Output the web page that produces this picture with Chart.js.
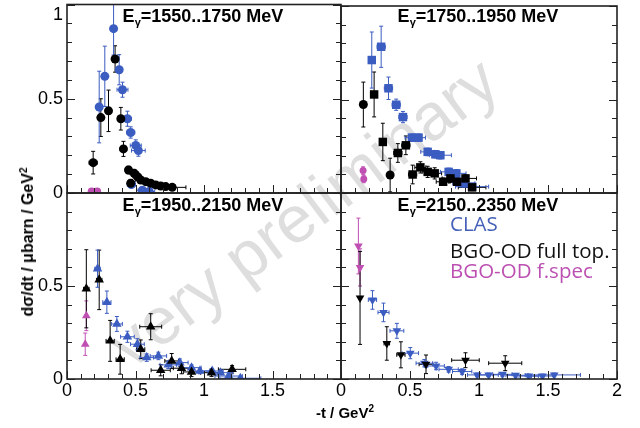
<!DOCTYPE html>
<html>
<head>
<meta charset="utf-8">
<script src="https://cdn.jsdelivr.net/npm/chart.js@4.4.1/dist/chart.umd.min.js"></script>
<style>
  body { margin: 0; background: #fff; }
  #wrap { position: relative; width: 640px; height: 428px; overflow: hidden; font-family: 'Liberation Sans', Arial, sans-serif; }
  canvas { position: absolute; left: 0; top: 0; }
  .wm { position: absolute; left: 303px; top: 212px; transform: translate(-50%, -50%) rotate(-37deg); font-size: 66px; color: #dedede; white-space: nowrap; }
  .title { position: absolute; transform: translateX(-50%); font-weight: bold; font-size: 18px; line-height: 18px; white-space: nowrap; }
  .title sub { font-size: 11px; line-height: 0; vertical-align: -4px; }
  .leg { position: absolute; left: 450px; font-family: 'Open Sans', sans-serif; font-size: 20.5px; line-height: 20px; white-space: nowrap; }
  .ytitle { position: absolute; left: 28px; top: 242px; transform: translate(-50%, -50%) rotate(-90deg); font-weight: bold; font-size: 16px; white-space: nowrap; }
  .xtitle { position: absolute; left: 345px; top: 412px; transform: translate(-50%, -50%); font-weight: bold; font-size: 15px; white-space: nowrap; }
  sup { font-size: 10px; line-height: 0; }
</style>
</head>
<body>
<div id="wrap">
  <div class="wm">very preliminary</div>
  <canvas id="p1550" width="640" height="428"></canvas>
  <canvas id="p1750" width="640" height="428"></canvas>
  <canvas id="p1950" width="640" height="428"></canvas>
  <canvas id="p2150" width="640" height="428"></canvas>
  <div class="title" style="left:203px;top:7px">E<sub>γ</sub>=1550..1750 MeV</div>
  <div class="title" style="left:478px;top:7px">E<sub>γ</sub>=1750..1950 MeV</div>
  <div class="title" style="left:203px;top:196px">E<sub>γ</sub>=1950..2150 MeV</div>
  <div class="title" style="left:478px;top:196px">E<sub>γ</sub>=2150..2350 MeV</div>
  <div class="leg" style="top:213px;color:#4560b8">CLAS</div>
  <div class="leg" style="top:240px;color:#111">BGO-OD full top.</div>
  <div class="leg" style="top:260px;color:#bc50b2">BGO-OD f.spec</div>
  <div class="ytitle">dσ/dt / μbarn / GeV<sup>2</sup></div>
  <div class="xtitle">-t / GeV<sup>2</sup></div>
</div>
<script>
// E = 1550..1750 MeV
const clas1550X  = [0.235, 0.276, 0.34, 0.381, 0.405, 0.441, 0.465, 0.502, 0.521, 0.47, 0.55, 0.6];
const clas1550Y  = [0.456, 0.619, 0.872, 0.654, 0.548, 0.394, 0.321, 0.252, 0.225, 0.045, 0.015, 0.008];
const clas1550Ex = [0.02, 0.02, 0.02, 0.02, 0.04, 0.03, 0.03, 0.04, 0.05, 0.03, 0.04, 0.04];
const clas1550Ey = [0.19, 0.16, 0.14, 0.08, 0.04, 0.04, 0.03, 0.03, 0.03, 0.01, 0.01, 0.01];
const full1550X  = [0.191, 0.247, 0.303, 0.351, 0.393, 0.412, 0.449, 0.465, 0.49, 0.514, 0.538, 0.575, 0.611, 0.647, 0.684, 0.72, 0.768];
const full1550Y  = [0.161, 0.40, 0.436, 0.711, 0.394, 0.234, 0.122, 0.052, 0.105, 0.087, 0.069, 0.06, 0.052, 0.043, 0.037, 0.034, 0.03];
const full1550Ex = [0.03, 0.02, 0.02, 0.02, 0.02, 0.02, 0.02, 0.02, 0.03, 0.03, 0.04, 0.04, 0.05, 0.05, 0.06, 0.07, 0.1];
const full1550Ey = [0.06, 0.1, 0.11, 0.07, 0.06, 0.04, 0.02, 0.02, 0.02, 0.015, 0.015, 0.01, 0.01, 0.01, 0.01, 0.01, 0.01];
const spec1550X  = [0.18, 0.22];
const spec1550Y  = [0.008, 0.008];
const spec1550Ex = [0.01, 0.01];
const spec1550Ey = [0.005, 0.005];

// E = 1750..1950 MeV
const clas1750X  = [0.223, 0.291, 0.344, 0.40, 0.449, 0.514, 0.562, 0.628, 0.684, 0.72, 0.78, 0.836, 0.89, 0.95];
const clas1750Y  = [0.711, 0.782, 0.56, 0.472, 0.406, 0.296, 0.296, 0.22, 0.207, 0.202, 0.113, 0.105, 0.052, 0.034];
const clas1750Ex = [0.02, 0.03, 0.03, 0.03, 0.03, 0.05, 0.05, 0.05, 0.06, 0.08, 0.06, 0.07, 0.08, 0.12];
const clas1750Ey = [0.15, 0.11, 0.06, 0.03, 0.03, 0.02, 0.02, 0.02, 0.02, 0.02, 0.02, 0.02, 0.02, 0.015];
const full1750X  = [0.162, 0.24, 0.303, 0.356, 0.412, 0.47, 0.519, 0.575, 0.628, 0.679, 0.74, 0.793, 0.841, 0.902, 0.95];
const full1750Y  = [0.473, 0.527, 0.273, 0.096, 0.214, 0.255, 0.099, 0.137, 0.113, 0.105, 0.06, 0.078, 0.06, 0.078, 0.03];
const full1750Ex = [0.02, 0.02, 0.02, 0.02, 0.03, 0.03, 0.03, 0.04, 0.04, 0.05, 0.05, 0.06, 0.06, 0.08, 0.1];
const full1750Ey = [0.12, 0.12, 0.1, 0.09, 0.05, 0.05, 0.05, 0.03, 0.03, 0.03, 0.02, 0.02, 0.02, 0.02, 0.015];
const spec1750X  = [0.16, 0.165];
const spec1750Y  = [0.12, 0.075];
const spec1750Ex = [0.005, 0.005];
const spec1750Ey = [0.02, 0.02];

// E = 1950..2150 MeV
const clas1950X  = [0.223, 0.291, 0.364, 0.441, 0.514, 0.582, 0.667, 0.739, 0.824, 0.909, 0.97, 1.06, 1.12, 1.18, 1.265];
const clas1950Y  = [0.593, 0.413, 0.296, 0.227, 0.187, 0.115, 0.124, 0.076, 0.088, 0.061, 0.043, 0.043, 0.034, 0.016, 0.004];
const clas1950Ex = [0.02, 0.03, 0.04, 0.05, 0.05, 0.05, 0.06, 0.06, 0.06, 0.07, 0.07, 0.08, 0.09, 0.1, 0.15];
const clas1950Ey = [0.1, 0.06, 0.04, 0.03, 0.03, 0.02, 0.02, 0.02, 0.02, 0.015, 0.015, 0.01, 0.01, 0.01, 0.005];
const full1950X  = [0.141, 0.235, 0.315, 0.388, 0.538, 0.611, 0.684, 0.764, 0.836, 0.909, 1.055, 1.205];
const full1950Y  = [0.485, 0.533, 0.205, 0.106, 0.16, 0.281, 0.047, 0.097, 0.058, 0.038, 0.034, 0.052];
const full1950Ex = [0.02, 0.02, 0.03, 0.03, 0.03, 0.08, 0.07, 0.05, 0.06, 0.06, 0.08, 0.1];
const full1950Ey = [0.21, 0.16, 0.11, 0.08, 0.05, 0.07, 0.03, 0.04, 0.03, 0.025, 0.02, 0.02];
const spec1950X  = [0.141, 0.133];
const spec1950Y  = [0.34, 0.187];
const spec1950Ex = [0.005, 0.005];
const spec1950Ey = [0.08, 0.06];

// E = 2150..2350 MeV
const clas2150X  = [0.228, 0.308, 0.405, 0.502, 0.604, 0.689, 0.78, 0.878, 0.987, 1.07, 1.17, 1.265, 1.36, 1.46, 1.545];
const clas2150Y  = [0.425, 0.358, 0.259, 0.139, 0.085, 0.07, 0.052, 0.04, 0.022, 0.022, 0.025, 0.02, 0.016, 0.016, 0.022];
const clas2150Ex = [0.03, 0.04, 0.05, 0.06, 0.06, 0.06, 0.07, 0.07, 0.07, 0.07, 0.07, 0.07, 0.07, 0.08, 0.19];
const clas2150Ey = [0.05, 0.05, 0.04, 0.03, 0.02, 0.02, 0.015, 0.015, 0.01, 0.01, 0.01, 0.01, 0.01, 0.01, 0.01];
const full2150X  = [0.138, 0.332, 0.434, 0.616, 0.902, 1.19];
const full2150Y  = [0.436, 0.191, 0.13, 0.079, 0.101, 0.085];
const full2150Ex = [0.01, 0.02, 0.03, 0.05, 0.1, 0.12];
const full2150Ey = [0.25, 0.09, 0.07, 0.05, 0.04, 0.04];
const spec2150X  = [0.126, 0.138];
const spec2150Y  = [0.715, 0.60];
const spec2150Ex = [0.005, 0.005];
const spec2150Ey = [0.15, 0.1];

const xTickLabels = ['0', '0.5', '1', '1.5', '2'];
const yTickLabels = ['0', '0.5', '1'];

const BLUE = '#3b5cc0';
const BLACK = '#000000';
const MAGENTA = '#c04fb4';

const points = (xs, ys) => xs.map((x, i) => ({ x: x, y: ys[i] }));

function series(label, color, xs, ys, ex, ey, style, radius, rotation) {
  return {
    label: label,
    data: points(xs, ys),
    xErr: ex,
    yErr: ey,
    showLine: false,
    backgroundColor: color,
    borderColor: color,
    borderWidth: 0,
    pointStyle: style,
    pointRadius: radius,
    pointRotation: rotation || 0
  };
}

const errorBars = {
  id: 'errorBars',
  beforeDatasetsDraw(chart) {
    const { ctx, chartArea: a, scales: { x, y } } = chart;
    ctx.save();
    ctx.beginPath();
    ctx.rect(a.left, a.top, a.right - a.left, a.bottom - a.top);
    ctx.clip();
    ctx.lineWidth = 1;
    chart.data.datasets.forEach(ds => {
      ctx.strokeStyle = ds.borderColor;
      ds.data.forEach((p, i) => {
        const px = x.getPixelForValue(p.x), py = y.getPixelForValue(p.y);
        const x0 = x.getPixelForValue(p.x - ds.xErr[i]), x1 = x.getPixelForValue(p.x + ds.xErr[i]);
        const y0 = y.getPixelForValue(p.y - ds.yErr[i]), y1 = y.getPixelForValue(p.y + ds.yErr[i]);
        ctx.beginPath();
        ctx.moveTo(x0, py); ctx.lineTo(x1, py);
        ctx.moveTo(px, y0); ctx.lineTo(px, y1);
        ctx.moveTo(x0, py - 2); ctx.lineTo(x0, py + 2);
        ctx.moveTo(x1, py - 2); ctx.lineTo(x1, py + 2);
        ctx.moveTo(px - 2, y0); ctx.lineTo(px + 2, y0);
        ctx.moveTo(px - 2, y1); ctx.lineTo(px + 2, y1);
        ctx.stroke();
      });
    });
    ctx.restore();
  }
};

// frame with inward ticks, ROOT style
const frame = {
  id: 'frame',
  afterDraw(chart) {
    const { ctx, chartArea: a, scales: { x, y } } = chart;
    ctx.save();
    ctx.strokeStyle = '#222';
    ctx.lineWidth = 1;
    ctx.beginPath();
    y.ticks.forEach(t => {
      const py = Math.round(y.getPixelForValue(t.value)) + 0.5;
      const len = Math.abs(t.value * 2 - Math.round(t.value * 2)) < 1e-6 ? 8 : 5;
      ctx.moveTo(a.left, py); ctx.lineTo(a.left + len, py);
      ctx.moveTo(a.right, py); ctx.lineTo(a.right - len, py);
    });
    x.ticks.forEach(t => {
      const px = Math.round(x.getPixelForValue(t.value)) + 0.5;
      const len = Math.abs(t.value * 2 - Math.round(t.value * 2)) < 1e-6 ? 8 : 5;
      ctx.moveTo(px, a.bottom); ctx.lineTo(px, a.bottom - len);
    });
    ctx.stroke();
    ctx.lineWidth = 1.6;
    ctx.strokeRect(a.left, a.top, a.right - a.left, a.bottom - a.top);
    ctx.restore();
  }
};

function makePanel(id, box, datasets, opts) {
  const tickFont = { family: "'Liberation Sans', Arial, sans-serif", size: 18 };
  // axis boxes take all the room left of / below the panel, so labels are not clipped
  const fit = scale => {
    if (scale.isHorizontal()) scale.height = 428 - box[3]; else scale.width = box[0];
    scale.paddingLeft = 0; scale.paddingRight = 0; scale.paddingTop = 0; scale.paddingBottom = 0;
  };
  new Chart(document.getElementById(id), {
    type: 'scatter',
    data: { datasets: datasets },
    options: {
      responsive: false,
      animation: false,
      events: [],
      layout: { padding: { left: 0, top: box[1], right: 640 - box[2], bottom: 0 } },
      plugins: { legend: { display: false }, tooltip: { enabled: false } },
      scales: {
        x: {
          type: 'linear', min: 0, max: 2,
          grid: { display: false, drawTicks: false },
          border: { display: false },
          ticks: {
            display: opts.xLabels, stepSize: 0.1, autoSkip: false, maxRotation: 0,
            padding: 1, color: '#000', font: tickFont,
            callback: v => {
              const s = String(Math.round(v * 10) / 10);
              return xTickLabels.includes(s) && !(s === '2' && !opts.xTwo) ? s : '';
            }
          },
          afterFit: fit
        },
        y: {
          type: 'linear', min: 0, max: 1,
          grid: { display: false, drawTicks: false },
          border: { display: false },
          ticks: {
            display: opts.yLabels, stepSize: 0.1, autoSkip: false,
            padding: 4, color: '#000', font: tickFont,
            callback: v => {
              const s = String(Math.round(v * 10) / 10);
              if (!yTickLabels.includes(s)) return '';
              if (s === '1') return opts.yOne ? ['', '1'] : '';
              return s;
            }
          },
          afterFit: fit
        }
      }
    },
    plugins: [errorBars, frame]
  });
}

const roundOnes = ctx => (ctx.dataIndex === 0 || ctx.dataIndex === 3);

makePanel('p1550', [67, 4, 341, 193], [
  series('BGO-OD f.spec', MAGENTA, spec1550X, spec1550Y, spec1550Ex, spec1550Ey, 'circle', 4),
  series('BGO-OD full top.', BLACK, full1550X, full1550Y, full1550Ex, full1550Ey, 'circle', 4.5),
  series('CLAS', BLUE, clas1550X, clas1550Y, clas1550Ex, clas1550Ey, 'circle', 4.5)
], { xLabels: false, yLabels: true, yOne: true });

makePanel('p1750', [341, 4, 617, 193], [
  series('BGO-OD f.spec', MAGENTA, spec1750X, spec1750Y, spec1750Ex, spec1750Ey, 'circle', 3.5),
  series('BGO-OD full top.', BLACK, full1750X, full1750Y, full1750Ex, full1750Ey,
    ctx => roundOnes(ctx) ? 'circle' : 'rect', ctx => roundOnes(ctx) ? 4.5 : 6),
  series('CLAS', BLUE, clas1750X, clas1750Y, clas1750Ex, clas1750Ey, 'rect', 6)
], { xLabels: false, yLabels: false });

makePanel('p1950', [67, 193, 341, 379], [
  series('BGO-OD f.spec', MAGENTA, spec1950X, spec1950Y, spec1950Ex, spec1950Ey, 'triangle', 5),
  series('BGO-OD full top.', BLACK, full1950X, full1950Y, full1950Ex, full1950Ey, 'triangle', 5.5),
  series('CLAS', BLUE, clas1950X, clas1950Y, clas1950Ex, clas1950Ey, 'triangle', 5.5)
], { xLabels: true, yLabels: true, yOne: false });

makePanel('p2150', [341, 193, 617, 379], [
  series('BGO-OD f.spec', MAGENTA, spec2150X, spec2150Y, spec2150Ex, spec2150Ey, 'triangle', 5, 180),
  series('BGO-OD full top.', BLACK, full2150X, full2150Y, full2150Ex, full2150Ey, 'triangle', 5, 180),
  series('CLAS', BLUE, clas2150X, clas2150Y, clas2150Ex, clas2150Ey, 'triangle', 5, 180)
], { xLabels: true, xTwo: true, yLabels: false });
</script>
</body>
</html>
